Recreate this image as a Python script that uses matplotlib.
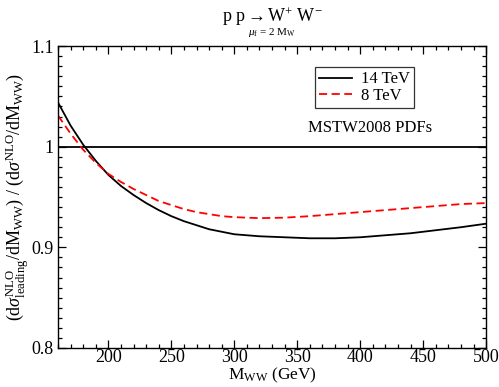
import matplotlib
matplotlib.use("Agg")
import matplotlib.pyplot as plt
from matplotlib.ticker import MultipleLocator

plt.rcParams['font.family'] = ['Liberation Serif', 'DejaVu Serif']
plt.rcParams['mathtext.fontset'] = 'custom'
plt.rcParams['mathtext.rm'] = 'Liberation Serif'
plt.rcParams['mathtext.it'] = 'Liberation Serif:italic'

# values
mww = [160, 170, 180, 190, 200, 210, 220, 230, 240, 250, 260, 270, 280, 290,
       300, 320, 340, 360, 380, 400, 420, 440, 460, 480, 500]
ratio_14tev = [1.044, 1.021, 1.002, 0.986, 0.972, 0.961, 0.952, 0.944, 0.937,
               0.931, 0.926, 0.922, 0.918, 0.9155, 0.913, 0.911, 0.910, 0.909,
               0.909, 0.910, 0.912, 0.914, 0.917, 0.920, 0.9235]
ratio_8tev = [1.031, 1.013, 0.997, 0.984, 0.973, 0.965, 0.958, 0.952, 0.946,
              0.942, 0.938, 0.935, 0.933, 0.931, 0.930, 0.929, 0.9295, 0.931,
              0.933, 0.935, 0.937, 0.939, 0.941, 0.943, 0.944]
yticks = [0.8, 0.9, 1.0, 1.1]
ytick_labels = ['0.8', '0.9', '1', '1.1']

fig = plt.figure(figsize=(4.99, 3.87), dpi=100)
ax = fig.add_axes([0.1162, 0.1008, 0.858, 0.7802])

ax.axhline(1.0, color='black', lw=1.3)
ax.plot(mww, ratio_14tev, color='black', lw=1.3, label='14 TeV')
ax.plot(mww, ratio_8tev, color='red', lw=1.3, ls=(0, (4.5, 2.5)), label='8 TeV')

ax.set_xlim(160, 500)
ax.set_ylim(0.8, 1.1)
ax.xaxis.set_major_locator(MultipleLocator(50))
ax.xaxis.set_minor_locator(MultipleLocator(10))
ax.set_yticks(yticks)
ax.set_yticklabels(ytick_labels)
ax.yaxis.set_minor_locator(MultipleLocator(0.01))
ax.tick_params(which='both', direction='in', top=True, right=True, labelsize=13)
ax.tick_params(axis='x', pad=1)
ax.tick_params(axis='y', pad=3)
ax.tick_params(which='major', length=6, width=0.9)
ax.tick_params(which='minor', length=3, width=0.9)
for s in ax.spines.values():
    s.set_linewidth(1.0)

ax.set_xlabel(r'M$_{\mathrm{WW}}$ (GeV)', fontsize=12.5, labelpad=-0.5)
ax.set_ylabel(r'$(\mathrm{d}\sigma^{\mathrm{NLO}}_{\mathrm{leading}}/\mathrm{dM}_{\mathrm{WW}})\ /\ (\mathrm{d}\sigma^{\mathrm{NLO}}/\mathrm{dM}_{\mathrm{WW}})$',
              fontsize=13, labelpad=0)

leg = ax.legend(loc='upper left', bbox_to_anchor=(0.6, 0.93), fontsize=12,
                frameon=True, fancybox=False, edgecolor='black',
                handlelength=2.0, handletextpad=0.5, borderpad=0.25,
                labelspacing=0.05, borderaxespad=0)
leg.get_frame().set_linewidth(0.9)
ax.text(0.73, 0.73, 'MSTW2008 PDFs', transform=ax.transAxes, ha='center',
        va='center', fontsize=12)

fig.text(0.545, 0.958, r'p p$\rightarrow$W$^{+}$ W$^{-}$', ha='center', va='center', fontsize=13)
fig.text(0.545, 0.915, r'$\mu_{\mathrm{f}}$ = 2 M$_{\mathrm{W}}$', ha='center', va='center', fontsize=8)

fig.savefig('out.png', dpi=100)
